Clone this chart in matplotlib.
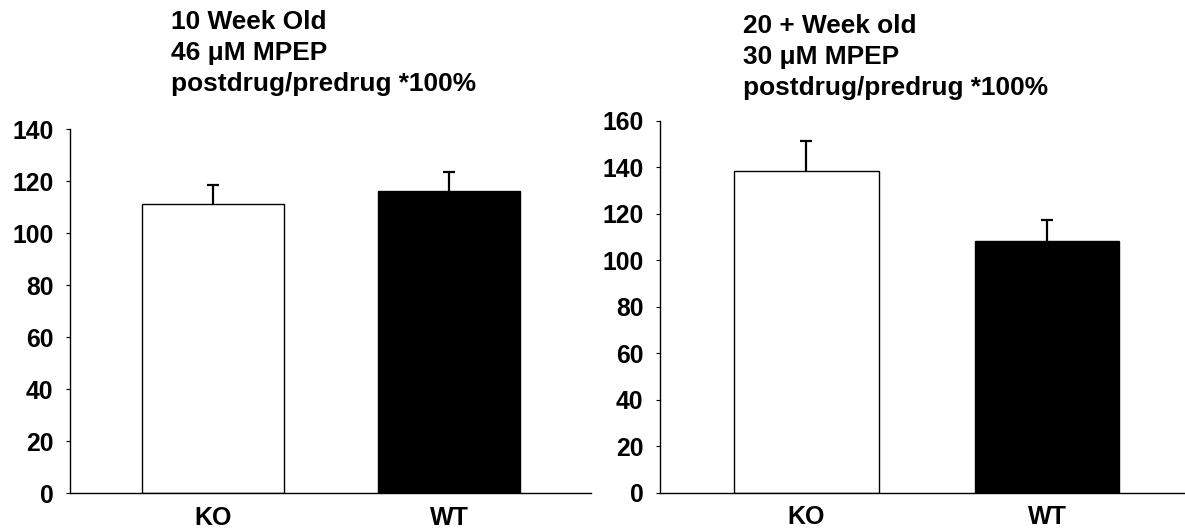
import matplotlib
matplotlib.use('Agg')
import matplotlib.pyplot as plt

plt.rcParams['font.family'] = ['Liberation Sans', 'DejaVu Sans']
plt.rcParams['font.weight'] = 'bold'

# values
groups = ['KO', 'WT']
bar_colors = ['white', 'black']

young_mean = [111.3, 116.3]
young_sem = [7.3, 7.2]
young_title = '10 Week Old\n46 \u03bcM MPEP\npostdrug/predrug *100%'
young_yticks = [0, 20, 40, 60, 80, 100, 120, 140]

old_mean = [138.3, 108.1]
old_sem = [13.1, 9.1]
old_title = '20 + Week old\n30 \u03bcM MPEP\npostdrug/predrug *100%'
old_yticks = [0, 20, 40, 60, 80, 100, 120, 140, 160]

W, H = 1185, 531
fig = plt.figure(figsize=(W / 100, H / 100), dpi=100)

# axes boxes in pixels: left, top, right, bottom
ax1 = fig.add_axes([70 / W, (H - 493.3) / H, 521 / W, (493.3 - 129.3) / H])
ax2 = fig.add_axes([660 / W, (H - 492.7) / H, 525 / W, (492.7 - 120.7) / H])


def draw_panel(ax, means, sems, yticks, xlim):
    x = range(len(groups))
    # symmetric error bars drawn under the bars, so only the upper half shows
    ax.errorbar(x, means, yerr=sems, fmt='none', ecolor='black',
                elinewidth=1.6, capsize=4.5, capthick=1.6, zorder=1)
    ax.bar(x, means, width=0.6, color=bar_colors, edgecolor='black',
           linewidth=1.0, zorder=2)
    ax.set_xlim(xlim)
    ax.set_ylim(yticks[0], yticks[-1])
    ax.set_yticks(yticks)
    ax.set_xticks(list(x))
    ax.set_xticklabels(groups)
    for side in ['top', 'right']:
        ax.spines[side].set_visible(False)
    for side in ['left', 'bottom']:
        ax.spines[side].set_linewidth(1.0)
    ax.tick_params(axis='y', direction='out', length=3, width=0.8,
                   pad=9, labelsize=17.8)
    ax.tick_params(axis='x', length=0, pad=9, labelsize=18)


draw_panel(ax1, young_mean, young_sem, young_yticks, (-0.606, 1.60))
draw_panel(ax2, old_mean, old_sem, old_yticks, (-0.609, 1.574))

fig.text(171 / W, 1 - 10 / H, young_title, ha='left', va='top',
         fontsize=18.9, fontweight='bold', linespacing=1.37)
fig.text(743 / W, 1 - 14 / H, old_title, ha='left', va='top',
         fontsize=18.9, fontweight='bold', linespacing=1.37)

plt.savefig('out.png', dpi=100)
